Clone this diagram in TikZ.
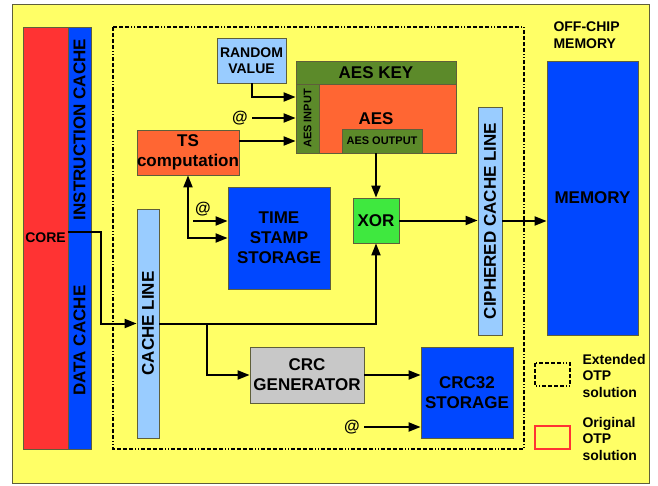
\documentclass[tikz,border=0pt]{standalone}
\usepackage{fontspec}
\setmainfont{Liberation Sans}
\usetikzlibrary{arrows.meta, positioning}

\definecolor{bgyellow}{HTML}{FFFF66}
\definecolor{corered}{HTML}{FF3333}
\definecolor{cacheblue}{HTML}{0047FF}
\definecolor{lineblue}{HTML}{99CCFF}
\definecolor{keygreen}{HTML}{5C8A2A}
\definecolor{aesorange}{HTML}{FF6633}
\definecolor{xorgreen}{HTML}{3FE83F}
\definecolor{crcgray}{HTML}{C8C8C8}
\definecolor{edge}{HTML}{5F5F3A}

\tikzset{
  block/.style={draw=edge, line width=0.8pt, inner sep=0pt, align=center,
    font=\bfseries\fontsize{17}{20}\selectfont},
  small/.style={font=\bfseries\fontsize{14}{16.5}\selectfont},
  tiny/.style={font=\bfseries\fontsize{11}{12}\selectfont},
  addr/.style={font=\bfseries\fontsize{16}{16}\selectfont, inner sep=1pt},
  flow/.style={line width=2pt, -{Triangle[length=12pt,width=9pt]}},
  twoway/.style={line width=2pt, {Triangle[length=12pt,width=9pt]}-{Triangle[length=12pt,width=9pt]}},
  otp/.style={line width=1.6pt, dash pattern=on 4pt off 2pt on 4pt off 2pt on 4pt off 2pt on 4pt off 2pt on 1pt off 2pt on 1pt off 2pt}
}

\begin{document}
\begin{tikzpicture}[x=1pt, y=-1pt]
	\useasboundingbox (0,0) rectangle (658,485);
	\fill[white] (0,0) rectangle (658,485);
	\draw[edge, fill=bgyellow, line width=1pt] (12,4) rectangle (649,483);

	% core and caches
	\node[block, fill=corered, small, minimum width=45pt, minimum height=422pt] (core) at (45.5,238) {CORE};
	\node[block, fill=cacheblue, minimum width=23pt, minimum height=205pt] (icache) at (79.5,129.5) {\rotatebox{90}{INSTRUCTION CACHE}};
	\node[block, fill=cacheblue, minimum width=23pt, minimum height=217pt] (dcache) at (79.5,340.5) {\rotatebox{90}{DATA CACHE}};

	% extended OTP area
	\draw[otp] (113,27) rectangle (524,449);

	\node[block, fill=lineblue, small, minimum width=69pt, minimum height=45pt] (rand) at (251.5,60.5) {RANDOM\\VALUE};
	\node[block, fill=keygreen, minimum width=160pt, minimum height=23pt] (aeskey) at (376,72.5) {AES KEY};
	\node[block, fill=aesorange, minimum width=160pt, minimum height=69pt] (aes) at (376,118.5) {AES};
	\node[block, fill=keygreen, tiny, minimum width=23pt, minimum height=69pt] (aesin) at (307.5,118.5) {\rotatebox{90}{AES INPUT}};
	\node[block, fill=keygreen, tiny, minimum width=80pt, minimum height=24pt] (aesout) at (382,141) {AES OUTPUT};

	\node[block, fill=aesorange, minimum width=102pt, minimum height=45pt] (tscomp) at (188,152.5) {TS\\computation};
	\node[block, fill=cacheblue, minimum width=102pt, minimum height=102pt] (tss) at (279,238) {TIME\\STAMP\\STORAGE};
	\node[block, fill=lineblue, minimum width=22pt, minimum height=229pt] (cacheline) at (148,323.5) {\rotatebox{90}{CACHE LINE}};
	\node[block, fill=xorgreen, minimum width=46pt, minimum height=45pt] (xor) at (376,220.5) {XOR};
	\node[block, fill=lineblue, minimum width=24pt, minimum height=228pt] (ccl) at (490,221) {\rotatebox{90}{CIPHERED CACHE LINE}};
	\node[block, fill=crcgray, minimum width=114pt, minimum height=56pt] (crcgen) at (307,375) {CRC\\GENERATOR};
	\node[block, fill=cacheblue, minimum width=92pt, minimum height=91pt] (crc32) at (467,392.5) {CRC32\\STORAGE};

	% off-chip side
	\node[small, align=left, anchor=west] (offchip) at (550,35) {OFF-CHIP\\MEMORY};
	\node[block, fill=cacheblue, minimum width=91pt, minimum height=274pt] (mem) at (592.5,198) {MEMORY};

	% address inputs
	\node[addr] (atone) at (240,118) {@};
	\node[addr] (attwo) at (203,209) {@};
	\node[addr] (atthree) at (352,427) {@};
	\coordinate (attwoin) at (193,221);
	\coordinate (tsout) at ([yshift=11.5pt]tscomp.east);
	\coordinate (rvin) at ([yshift=21.5pt]aesin.west);
	\path (cacheline.east) ++(48,0) coordinate (split);

	% connectors
	\draw[flow] (rand.south) |- (rvin);
	\draw[flow] ([xshift=3pt]atone.east) -- (atone.east -| aesin.west);
	\draw[flow] (tsout) -- (tsout -| aesin.west);
	\draw[twoway] (tscomp.south) |- (tss.west);
	\draw[flow] (attwoin) -- (attwoin -| tss.west);
	\draw[flow] (aesout.south -| xor.north) -- (xor.north);
	\draw[flow] (xor.east) -- (xor.east -| ccl.west);
	\draw[flow] (ccl.east) -- (ccl.east -| mem.west);
	\draw[flow] (icache.south west) -- ++(33,0) |- (cacheline.west);
	\draw[flow] (cacheline.east) -| (xor.south);
	\draw[flow] (split) |- (crcgen.west);
	\draw[flow] (crcgen.east) -- (crcgen.east -| crc32.west);
	\draw[flow] ([xshift=3pt]atthree.east) -- (atthree.east -| crc32.west);

	% legend
	\draw[otp] (535,363) rectangle (570,386);
	\node[small, align=left, anchor=west] (extlabel) at (579,375.5) {Extended\\OTP\\solution};
	\draw[corered, line width=1.6pt] (535,426) rectangle (570,449);
	\node[small, align=left, anchor=west] (origlabel) at (579,438.5) {Original\\OTP\\solution};
\end{tikzpicture}
\end{document}
